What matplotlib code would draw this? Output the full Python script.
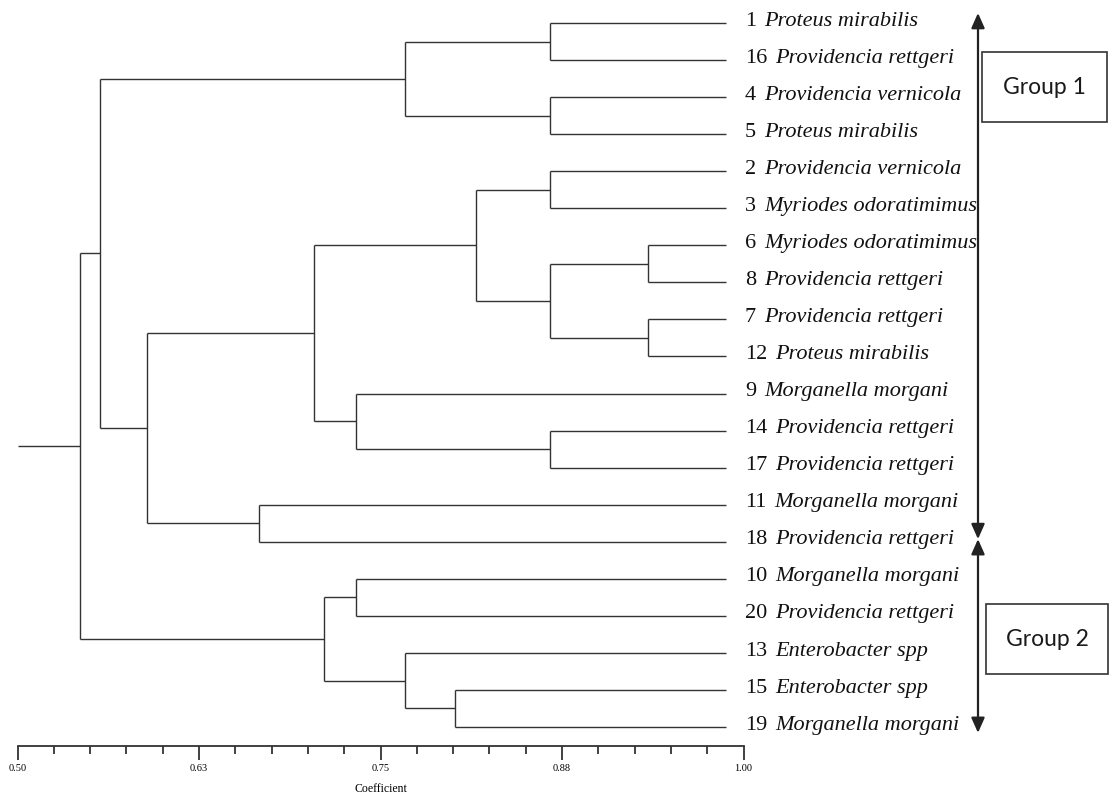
import matplotlib
matplotlib.use("Agg")
import matplotlib.pyplot as plt
import matplotlib.transforms as mtransforms
from matplotlib.patches import Rectangle

# ---------------- data ----------------
leaf_numbers = ["1", "16", "4", "5", "2", "3", "6", "8", "7", "12",
                "9", "14", "17", "11", "18", "10", "20", "13", "15", "19"]
leaf_species = ["Proteus mirabilis", "Providencia rettgeri", "Providencia vernicola",
                "Proteus mirabilis", "Providencia vernicola", "Myriodes odoratimimus",
                "Myriodes odoratimimus", "Providencia rettgeri", "Providencia rettgeri",
                "Proteus mirabilis", "Morganella morgani", "Providencia rettgeri",
                "Providencia rettgeri", "Morganella morgani", "Providencia rettgeri",
                "Morganella morgani", "Providencia rettgeri", "Enterobacter spp",
                "Enterobacter spp", "Morganella morgani"]
leaf_coefficient = 0.988          # where the leaf branches end
# merges: node ids 0..19 are leaves (display order); new nodes get 20, 21, ...
merge_left   = [0, 2, 20, 4, 6, 8, 24, 23, 11, 10, 27, 13, 30, 22, 15, 18, 17, 34, 33]
merge_right  = [1, 3, 21, 5, 7, 9, 25, 26, 12, 28, 29, 14, 31, 32, 16, 19, 35, 36, 37]
merge_height = [0.867, 0.867, 0.767, 0.867, 0.934, 0.934, 0.867, 0.816, 0.867, 0.733,
                0.704, 0.666, 0.589, 0.557, 0.733, 0.801, 0.767, 0.711, 0.543]
root_start = 0.50
x_ticks = [0.50, 0.625, 0.75, 0.875, 1.00]
x_tick_labels = ["0.50", "0.63", "0.75", "0.88", "1.00"]
x_minor_step = 0.025
x_label = "Coefficient"
group_names = ["Group 1", "Group 2"]

# ---------------- figure ----------------
W, H = 1109, 800
fig = plt.figure(figsize=(W / 100, H / 100), dpi=100)
ax = fig.add_axes([17.5 / W, 54 / H, 726 / W, 738 / H])
ax.set_xlim(0.5, 1.0)
ax.set_ylim(19.514, -0.405)

line_kw = dict(color="#333333", lw=1.0, solid_capstyle="butt", clip_on=False)

n_leaves = len(leaf_numbers)
node_x = {i: leaf_coefficient for i in range(n_leaves)}
node_y = {i: float(i) for i in range(n_leaves)}
for k, (a, b, h) in enumerate(zip(merge_left, merge_right, merge_height)):
    nid = n_leaves + k
    ya, yb = node_y[a], node_y[b]
    ax.plot([h, h], [ya, yb], **line_kw)
    ax.plot([h, node_x[a]], [ya, ya], **line_kw)
    ax.plot([h, node_x[b]], [yb, yb], **line_kw)
    node_x[nid] = h
    node_y[nid] = (ya + yb) / 2
root = n_leaves + len(merge_height) - 1
ax.plot([root_start, node_x[root]], [node_y[root], node_y[root]], **line_kw)

# axis styling
for s in ["left", "right", "top"]:
    ax.spines[s].set_visible(False)
ax.spines["bottom"].set_linewidth(1.3)
ax.spines["bottom"].set_color("#333333")
ax.set_yticks([])
ax.set_xticks(x_ticks)
ax.set_xticklabels(x_tick_labels, fontfamily="Liberation Serif", fontsize=7.5)
minor = [0.5 + i * x_minor_step for i in range(int(round(0.5 / x_minor_step)) + 1)]
ax.set_xticks(minor, minor=True)
ax.tick_params(axis="x", which="major", length=10, width=1.3, color="#333333", pad=3)
ax.tick_params(axis="x", which="minor", length=6, width=1.3, color="#333333")
ax.set_xlabel(x_label, fontfamily="Liberation Serif", fontsize=8.5, labelpad=7)

# leaf labels
lab_tr = mtransforms.blended_transform_factory(fig.transFigure, ax.transData)
for i, (num, sp) in enumerate(zip(leaf_numbers, leaf_species)):
    t = ax.text(745 / W, i - 0.05, num, transform=lab_tr, fontfamily="Liberation Serif",
                fontsize=16, va="center", ha="left", color="#111111")
    ax.annotate(sp, xy=(1, 0), xycoords=t, xytext=(6, 0), textcoords="offset points",
                fontfamily="Liberation Serif", fontstyle="italic", fontsize=16,
                va="bottom", ha="left", color="#111111")

# group arrows
arrow_spans = [(-0.27, 13.93), (13.93, 19.16)]
for y0, y1 in arrow_spans:
    ax.annotate("", xy=(978 / W, y0), xycoords=lab_tr, xytext=(978 / W, y1), textcoords=lab_tr,
                arrowprops=dict(arrowstyle="<|-|>,head_length=0.9,head_width=0.4",
                                color="#222222", lw=1.6, shrinkA=0, shrinkB=0))

# group boxes
boxes = [(982, 52, 1107, 122), (986, 604, 1108, 674)]
for (x0, y0, x1, y1), name in zip(boxes, group_names):
    fig.patches.append(Rectangle((x0 / W, 1 - y1 / H), (x1 - x0) / W, (y1 - y0) / H,
                                 transform=fig.transFigure, fill=False,
                                 edgecolor="#333333", lw=1.2))
    fig.text((x0 + x1) / 2 / W, 1 - (y0 + y1) / 2 / H, name, fontfamily="Lato",
             fontsize=16.5, ha="center", va="center", color="#1a1a1a")

fig.savefig("out.png", dpi=100)
